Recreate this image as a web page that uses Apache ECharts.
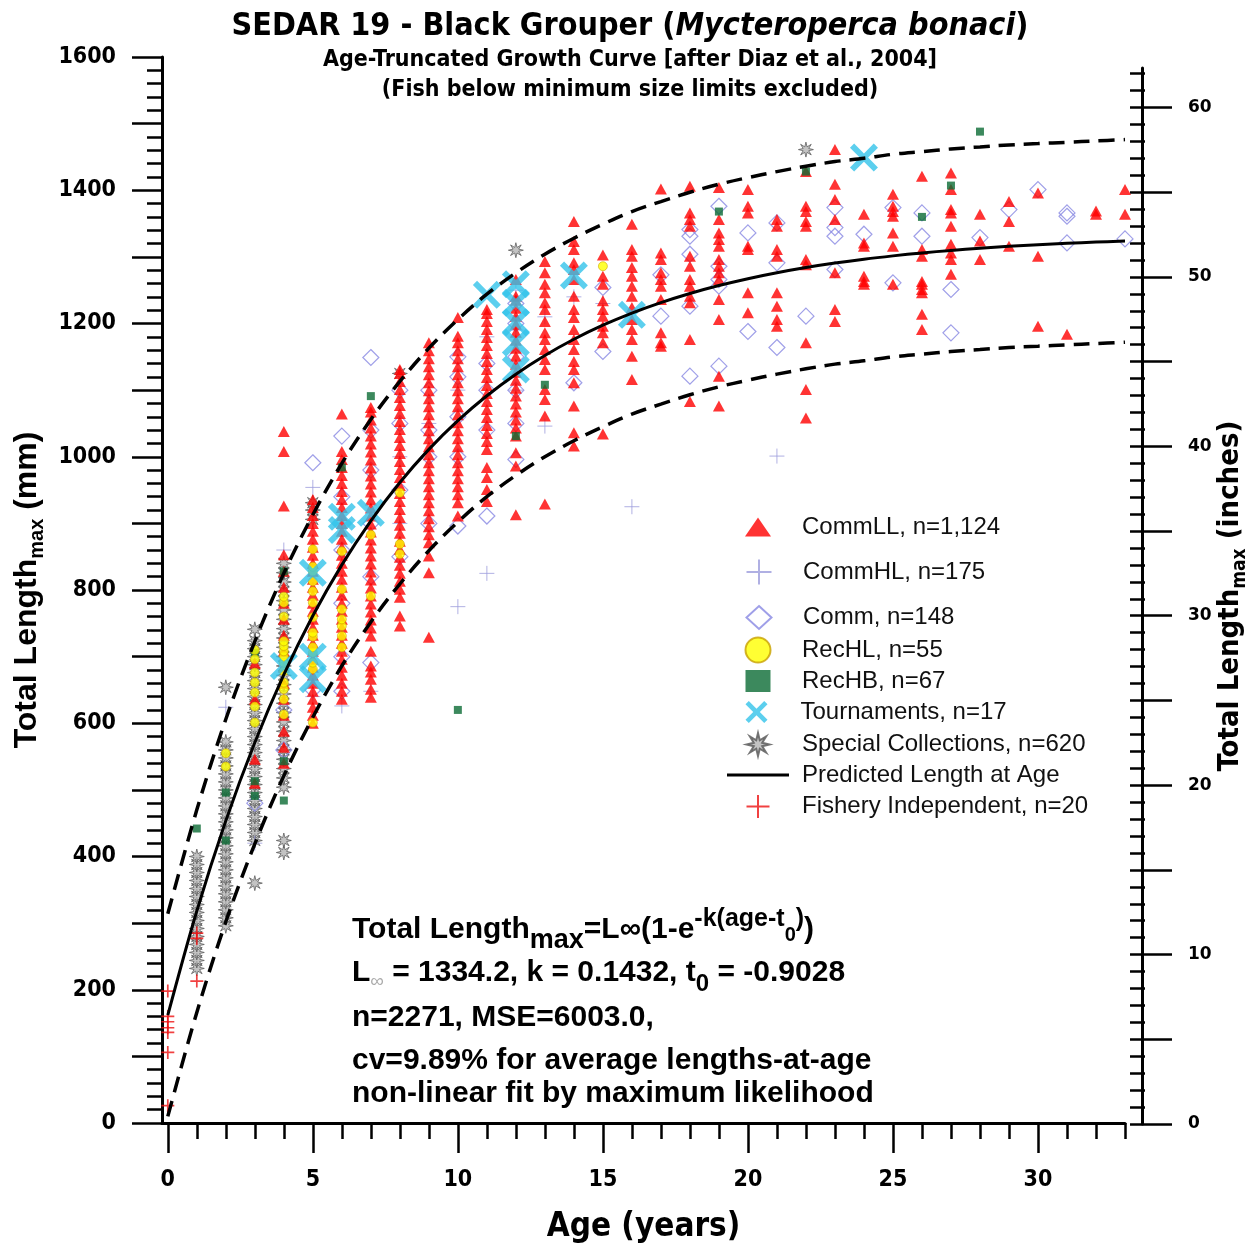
<!DOCTYPE html>
<html><head><meta charset="utf-8">
<script src="https://cdn.jsdelivr.net/npm/echarts@6/dist/echarts.min.js"></script>
<style>html,body{margin:0;padding:0;background:#fff}#c{width:1260px;height:1249px}</style>
</head><body><div id="c"></div>
<script>
// ---------- data ----------
const ages = [0,1,2,3,4,5,6,7,8,9,10,11,12,13,14,15,16,17,18,19,20,21,22,23,24,25,26,27,28,29,30,31,32,33];
const predicted = [161.8,318.2,453.8,571.2,673.0,761.3,837.7,903.9,961.4,1011.1,1054.2,1091.6,1123.9,1152.0,1176.3,1197.4,1215.6,1231.4,1245.1,1257.0,1267.3,1276.2,1284.0,1290.7,1296.5,1301.5,1305.9,1309.7,1312.9,1315.8,1318.2,1320.4,1322.2,1323.8];
const upperBand = [314,470,606,723,825,913,990,1056,1113,1163,1206,1244,1276,1304,1328,1349,1368,1383,1397,1409,1419,1428,1436,1443,1448,1454,1458,1462,1465,1468,1470,1472,1474,1476];
const lowerBand = [10,166,302,419,521,609,686,752,809,859,902,940,972,1000,1024,1045,1064,1079,1093,1105,1115,1124,1132,1139,1144,1150,1154,1158,1161,1164,1166,1168,1170,1172];

const xMajorTicks = [0,5,10,15,20,25,30];
const xMinorTicks = [0,1,2,3,4,5,6,7,8,9,10,11,12,13,14,15,16,17,18,19,20,21,22,23,24,25,26,27,28,29,30,31,32,33];
const inchMajorTicks = [0,5,10,15,20,25,30,35,40,45,50,55,60];
const inchLabels = [0,10,20,30,40,50,60];
const inchMinorTicks = [0,1,2,3,4,5,6,7,8,9,10,11,12,13,14,15,16,17,18,19,20,21,22,23,24,25,26,27,28,29,30,31,32,33,34,35,36,37,38,39,40,41,42,43,44,45,46,47,48,49,50,51,52,53,54,55,56,57,58,59,60,61,62];

// [age, [lengths mm]]
const commLL = [
 [3,[510,546,636,690]],
 [4,[540,564,588,612,636,660,684,708,732,756,780,804,828,853,926,1008,1038]],
 [5,[600,612,624,636,648,660,672,684,696,708,720,732,744,756,768,780,792,804,816,828,840,852,864,876,888,900,912,924,936]],
 [6,[636,648,660,672,684,696,708,720,732,744,756,768,780,792,804,816,828,840,852,864,876,888,900,912,924,936,948,960,972,984,996,1008,1064]],
 [7,[639,651,666,677,686,708,731,743,755,767,779,791,803,815,827,839,851,863,875,887,899,911,923,935,947,959,971,983,995,1007,1019,1031,1043,1055,1067,1074]],
 [8,[746,761,789,801,813,825,837,849,861,873,885,897,909,921,933,945,957,969,981,993,1005,1017,1029,1041,1053,1065,1077,1089,1101,1113,1125,1131]],
 [9,[729,826,851,871,883,895,907,919,931,943,955,967,979,991,1003,1015,1027,1039,1051,1063,1075,1087,1099,1111,1123,1135,1147,1159,1171]],
 [10,[911,931,943,955,967,979,991,1003,1015,1027,1039,1051,1063,1075,1087,1099,1111,1123,1135,1147,1159,1171,1181,1209]],
 [11,[933,951,969,984,1011,1023,1035,1047,1059,1071,1083,1095,1107,1119,1131,1143,1155,1167,1179,1191,1203,1215,1221]],
 [12,[913,986,1006,1031,1043,1055,1067,1079,1091,1103,1115,1127,1139,1151,1163,1175,1187,1199,1211,1223,1235,1241,1266]],
 [13,[929,1061,1086,1101,1131,1146,1161,1176,1186,1203,1221,1231,1246,1259,1276,1293]],
 [14,[1016,1036,1076,1111,1131,1143,1161,1176,1191,1209,1221,1241,1266,1281,1291,1311,1323,1353]],
 [15,[1034,1171,1186,1196,1211,1221,1234,1259,1271,1303]],
 [16,[1116,1151,1176,1191,1206,1224,1241,1256,1271,1284,1301,1311,1349]],
 [17,[1166,1171,1186,1236,1256,1266,1276,1296,1306,1402]],
 [18,[1083,1176,1231,1241,1256,1266,1286,1301,1346,1356,1366,1406]],
 [19,[1076,1121,1206,1236,1266,1276,1286,1296,1316,1326,1336,1356,1404]],
 [20,[1216,1246,1311,1316,1366,1376,1401]],
 [21,[1196,1206,1226,1246,1301,1311,1346,1356]],
 [22,[1058,1101,1171,1288,1296,1346,1353,1368,1376,1428]],
 [23,[1203,1221,1276,1356,1386,1409,1461]],
 [24,[1259,1263,1271,1316,1321,1364]],
 [25,[1259,1316,1336,1361,1368,1376,1394]],
 [26,[1191,1214,1246,1251,1259,1263,1301,1311,1421]],
 [27,[1274,1296,1306,1319,1346,1366,1371,1401,1426]],
 [28,[1296,1324,1364]],
 [29,[1316,1353,1383]],
 [30,[1196,1301,1396]],
 [31,[1184]],
 [32,[1364,1369]],
 [33,[1364,1401]]
];
const commHL = [
 [2,[624]],[3,[420]],[4,[860]],[5,[640,954]],[6,[626]],[7,[648]],[8,[900,1000]],[9,[1050]],
 [10,[775,1100]],[11,[825,1180]],[12,[1100,1190,1250]],[13,[1046,1210]],[14,[1240]],[15,[1230]],[16,[925]],[21,[1001]]
];
const comm = [
 [3,[480]],[4,[560,620]],[5,[650,991]],[6,[648,700,780,860,940,1031]],[7,[691,820,900,980,1040,1149]],
 [8,[850,950,1050,1100]],[9,[900,1000,1040,1100]],[10,[896,1000,1060,1120,1150]],[11,[911,1040,1100,1140]],
 [12,[996,1050,1100,1150,1200,1230]],[14,[1111]],[15,[1158,1254]],[17,[1211,1273]],[18,[1121,1226,1304,1331,1341]],
 [19,[1136,1256,1266,1286,1376]],[20,[1188,1336]],[21,[1164,1291,1351]],[22,[1211]],[23,[1281,1331,1344,1374]],
 [24,[1334]],[25,[1261,1374]],[26,[1331,1366]],[27,[1186,1251]],[28,[1329]],[29,[1371]],[30,[1401]],
 [31,[1321,1361,1366]],[33,[1327]]
];
const recHL = [
 [2,[535,555]],[3,[601,625,646,661,676,696,710]],
 [4,[613,636,651,661,678,691,700,708,716,723,760,781,790]],
 [5,[601,681,691,706,714,730,736,759,781,798,813,828,835,861]],
 [6,[714,731,746,756,771,801,858]],[7,[791,883]],[8,[854,869,946]],[15,[1286]]
];
const recHB = [
 [1,[442]],[2,[424,496]],[3,[491,513,706]],[4,[484,543,828]],[6,[984]],[7,[1091]],[10,[620]],[12,[1031]],
 [13,[1108]],[19,[1368]],[22,[1428]],[26,[1360]],[27,[1407]],[28,[1488]]
];
const tournaments = [
 [4,[686]],[5,[666,700,826]],[6,[890,910]],[7,[916]],[11,[1243]],[12,[1131,1171,1202,1231,1259]],[14,[1272]],[16,[1213]],[24,[1449]]
];
const specialColl = [
 [1,[232,244,256,268,280,292,304,316,328,340,352,364,376,388,400]],
 [2,[296,308,320,332,344,356,368,380,392,404,416,428,440,452,464,476,488,500,512,524,536,548,560,572,654]],
 [3,[360,424,436,448,460,472,484,496,508,520,532,544,556,568,580,592,604,616,628,640,652,664,676,688,700,712,724,741]],
 [4,[406,424,504,518,532,546,560,574,588,602,616,630,644,658,672,686,700,714,728,742,756,770,784,798,812,826,840]],
 [5,[906,920,931]],[8,[1125]],[12,[1310]],[22,[1461]]
];
const fisheryIndep = [
 [0,[26,106,136,143,152,160,198]],[1,[213,277,285]]
];

// ---------- build ----------
const flat = g => g.flatMap(([a, ls]) => ls.map(l => [a, l]));
const pairs = arr => ages.map((a, i) => [a, arr[i]]);

const NARROW = "'Liberation Sans Narrow','Arial Narrow','DejaVu Sans Condensed','Roboto Condensed',sans-serif";
const ARIAL = "'Liberation Sans',Arial,sans-serif";
const PLUS = 'path://M10,0 L10,20 M0,10 L20,10';
const XMARK = 'path://M0,3 L3,0 L10,7 L17,0 L20,3 L13,10 L20,17 L17,20 L10,13 L3,20 L0,17 L7,10 Z';
const STAR = 'path://M20,10 L13.7,11.53 L17.07,17.07 L11.53,13.7 L10,20 L8.47,13.7 L2.93,17.07 L6.3,11.53 L0,10 L6.3,8.47 L2.93,2.93 L8.47,6.3 L10,0 L11.53,6.3 L17.07,2.93 L13.7,8.47 Z';

const N = {
  commLL: 'CommLL, n=1,124', commHL: 'CommHL, n=175', comm: 'Comm, n=148', recHL: 'RecHL, n=55',
  recHB: 'RecHB, n=67', tourn: 'Tournaments, n=17', special: 'Special Collections, n=620',
  pred: 'Predicted Length at Age', fi: 'Fishery Independent, n=20'
};

function sc(name, data, o) {
  return Object.assign({type: 'scatter', name: name, data: flat(data), xAxisIndex: 0, yAxisIndex: 0, silent: true}, o);
}
const tickStyle = {color: '#000', width: 2.5};

function lg(name, cy, w, h) {
  const H = Math.max(h, 24);
  return {data: [name], left: 758 - w / 2, top: cy - H / 2, itemWidth: w, itemHeight: h, padding: 0,
    selectedMode: false, orient: 'horizontal',
    textStyle: {fontFamily: ARIAL, fontSize: 24, color: '#111', padding: [0, 0, 0, 39 - w / 2]}};
}

const option = {
  animation: false,
  backgroundColor: '#fff',
  title: [
    {text: '{b|SEDAR 19 - Black Grouper (}{i|Mycteroperca bonaci}{b|)}', left: 'center', top: 6,
     textStyle: {rich: {
       b: {fontFamily: NARROW, fontWeight: 'bold', fontSize: 32, color: '#000'},
       i: {fontFamily: NARROW, fontWeight: 'bold', fontStyle: 'italic', fontSize: 32, color: '#000'}}}},
    {text: 'Age-Truncated Growth Curve [after Diaz et al., 2004]', left: 'center', top: 44,
     textStyle: {fontFamily: NARROW, fontWeight: 'bold', fontSize: 23, color: '#000'}},
    {text: '(Fish below minimum size limits excluded)', left: 'center', top: 74,
     textStyle: {fontFamily: NARROW, fontWeight: 'bold', fontSize: 23, color: '#000'}}
  ],
  grid: [
    {left: 162, top: 57, width: 963, height: 1067},
    {left: 1130, top: 68, width: 12, height: 1056}
  ],
  xAxis: [
    {gridIndex: 0, type: 'value', min: -0.2, max: 33, position: 'bottom',
     axisLine: {show: true, onZero: false, lineStyle: {color: '#000', width: 3}},
     axisTick: {show: true, customValues: xMinorTicks, length: 16, lineStyle: tickStyle},
     axisLabel: {show: true, customValues: xMajorTicks, margin: 46, fontFamily: NARROW, fontWeight: 'bold', fontSize: 23, color: '#000'},
     splitLine: {show: false},
     name: 'Age (years)', nameLocation: 'middle', nameGap: 88,
     nameTextStyle: {fontFamily: NARROW, fontWeight: 'bold', fontSize: 33, color: '#000'}},
    {gridIndex: 0, type: 'value', min: -0.2, max: 33, position: 'bottom',
     axisLine: {show: false}, axisTick: {show: true, customValues: xMajorTicks, length: 30, lineStyle: tickStyle},
     axisLabel: {show: false}, splitLine: {show: false}},
    {gridIndex: 1, type: 'value', min: 0, max: 1, show: false}
  ],
  yAxis: [
    {gridIndex: 0, type: 'value', min: 0, max: 1600, interval: 100, position: 'left',
     axisLine: {show: true, onZero: false, lineStyle: {color: '#000', width: 3}},
     axisTick: {show: true, length: 30, lineStyle: tickStyle},
     minorTick: {show: true, splitNumber: 5, length: 15, lineStyle: tickStyle},
     axisLabel: {formatter: v => (v % 200 === 0 ? String(v) : ''), margin: 46, fontFamily: NARROW, fontWeight: 'bold', fontSize: 23, color: '#000'},
     splitLine: {show: false}, minorSplitLine: {show: false},
     name: '{a|Total Length}{s|max}{a| (mm)}', nameLocation: 'middle', nameRotate: 90, nameGap: 112,
     nameTextStyle: {rich: {
       a: {fontFamily: ARIAL, fontWeight: 'bold', fontSize: 32, color: '#000', verticalAlign: 'top', padding: [0, 0, 0, 0]},
       s: {fontFamily: ARIAL, fontWeight: 'bold', fontSize: 20, color: '#000', verticalAlign: 'top', padding: [16, 0, 0, 0]}}}},
    {gridIndex: 1, type: 'value', min: 0, max: 62.33, position: 'right',
     axisLine: {show: true, onZero: false, lineStyle: {color: '#000', width: 3}},
     axisTick: {show: true, customValues: inchMajorTicks, length: 30, lineStyle: tickStyle},
     axisLabel: {show: true, customValues: inchLabels, margin: 46, fontFamily: "'DejaVu Sans',sans-serif", fontWeight: 'bold', fontSize: 17, color: '#000'},
     splitLine: {show: false},
     name: '{a|Total Length}{s|max}{a| (inches)}', nameLocation: 'middle', nameRotate: 90, nameGap: 74,
     nameTextStyle: {rich: {
       a: {fontFamily: NARROW, fontWeight: 'bold', fontSize: 29, color: '#000', verticalAlign: 'top', padding: [0, 0, 0, 0]},
       s: {fontFamily: NARROW, fontWeight: 'bold', fontSize: 19, color: '#000', verticalAlign: 'top', padding: [15, 0, 0, 0]}}}},
    {gridIndex: 1, type: 'value', min: 0, max: 62.33, position: 'right',
     axisLine: {show: false}, axisTick: {show: true, customValues: inchMinorTicks, length: 15, lineStyle: tickStyle},
     axisLabel: {show: false}, splitLine: {show: false}}
  ],
  legend: [
    lg(N.commLL, 527, 26, 19),
    lg(N.commHL, 571, 25, 25),
    lg(N.comm, 617, 25, 23),
    lg(N.recHL, 649, 27, 25),
    lg(N.recHB, 681, 25, 22),
    lg(N.tourn, 712, 25, 22),
    lg(N.special, 744, 25, 23),
    Object.assign(lg(N.pred, 775, 62, 3), {left: 727, icon: 'rect',
      textStyle: {fontFamily: ARIAL, fontSize: 24, color: '#111', padding: [0, 0, 0, 8]}}),
    lg(N.fi, 806, 25, 23)
  ],
  series: [
    sc(N.special, specialColl, {symbol: STAR, symbolSize: 15, z: 2,
      itemStyle: {color: '#b4b4b4', borderColor: '#555', borderWidth: 0.9}}),
    sc(N.comm, comm, {symbol: 'diamond', symbolSize: 16, z: 2,
      itemStyle: {color: 'rgba(255,255,255,0)', borderColor: '#8787e2', borderWidth: 1.2}}),
    sc(N.commHL, commHL, {symbol: PLUS, symbolSize: 15, z: 2,
      itemStyle: {color: 'rgba(255,255,255,0)', borderColor: '#9c9cdc', borderWidth: 1}}),
    sc(N.commLL, commLL, {symbol: 'triangle', symbolSize: [12, 11], z: 3,
      itemStyle: {color: '#ff0000'}}),
    sc(N.recHB, recHB, {symbol: 'rect', symbolSize: 8, z: 4,
      itemStyle: {color: '#0b6b35'}}),
    sc(N.recHL, recHL, {symbol: 'circle', symbolSize: 9, z: 4,
      itemStyle: {color: '#ffff00', borderColor: '#c8a000', borderWidth: 0.7}}),
    sc(N.tourn, tournaments, {symbol: XMARK, symbolSize: 28, z: 5,
      itemStyle: {color: '#33c3ea'}}),
    sc(N.fi, fisheryIndep, {symbol: PLUS, symbolSize: 13, z: 5,
      itemStyle: {color: 'rgba(255,255,255,0)', borderColor: '#ee1111', borderWidth: 1.7}}),
    {type: 'line', name: 'upper', data: pairs(upperBand), smooth: 0.35, symbol: 'none', silent: true, z: 6,
     lineStyle: {color: '#000', width: 3.5, type: [16, 9]}},
    {type: 'line', name: 'lower', data: pairs(lowerBand), smooth: 0.35, symbol: 'none', silent: true, z: 6,
     lineStyle: {color: '#000', width: 3.5, type: [16, 9]}},
    {type: 'line', name: N.pred, data: pairs(predicted), smooth: 0.35, symbol: 'none', silent: true, z: 7,
     itemStyle: {color: '#000'}, lineStyle: {color: '#000', width: 3}}
  ],
  graphic: [
    {type: 'text', x: 352, y: 907, z: 10, style: {
      text: '{a|Total Length}{s|max}{a|=L∞(1-e}{p|-k(age-t}{ps|0}{p|)}{a|)}',
      rich: {
        a: {fontFamily: ARIAL, fontWeight: 'bold', fontSize: 30, fill: '#000', verticalAlign: 'top', padding: [8, 0, 0, 0]},
        s: {fontFamily: ARIAL, fontWeight: 'bold', fontSize: 27, fill: '#000', verticalAlign: 'top', padding: [20, 0, 0, 0]},
        p: {fontFamily: ARIAL, fontWeight: 'bold', fontSize: 25, fill: '#000', verticalAlign: 'top', padding: [0, 0, 0, 0]},
        ps: {fontFamily: ARIAL, fontWeight: 'bold', fontSize: 20, fill: '#000', verticalAlign: 'top', padding: [18, 0, 0, 0]}
      }}},
    {type: 'text', x: 352, y: 950, z: 10, style: {
      text: '{a|L}{i|∞}{a| = 1334.2, k = 0.1432, t}{s|0}{a| = -0.9028}',
      rich: {
        a: {fontFamily: ARIAL, fontWeight: 'bold', fontSize: 30, fill: '#000', verticalAlign: 'top', padding: [8, 0, 0, 0]},
        i: {fontFamily: ARIAL, fontSize: 19, fill: '#aaa', verticalAlign: 'top', padding: [22, 0, 0, 0]},
        s: {fontFamily: ARIAL, fontWeight: 'bold', fontSize: 24, fill: '#000', verticalAlign: 'top', padding: [22, 0, 0, 0]}
      }}},
    {type: 'text', x: 352, y: 1018, z: 10, style: {text: 'n=2271, MSE=6003.0,', font: 'bold 30px ' + ARIAL, fill: '#000', verticalAlign: 'middle'}},
    {type: 'text', x: 352, y: 1061, z: 10, style: {text: 'cv=9.89% for average lengths-at-age', font: 'bold 30px ' + ARIAL, fill: '#000', verticalAlign: 'middle'}},
    {type: 'text', x: 352, y: 1094, z: 10, style: {text: 'non-linear fit by maximum likelihood', font: 'bold 30px ' + ARIAL, fill: '#000', verticalAlign: 'middle'}}
  ]
};

const chart = echarts.init(document.getElementById('c'), null, {renderer: 'canvas'});
chart.setOption(option);
</script></body></html>
